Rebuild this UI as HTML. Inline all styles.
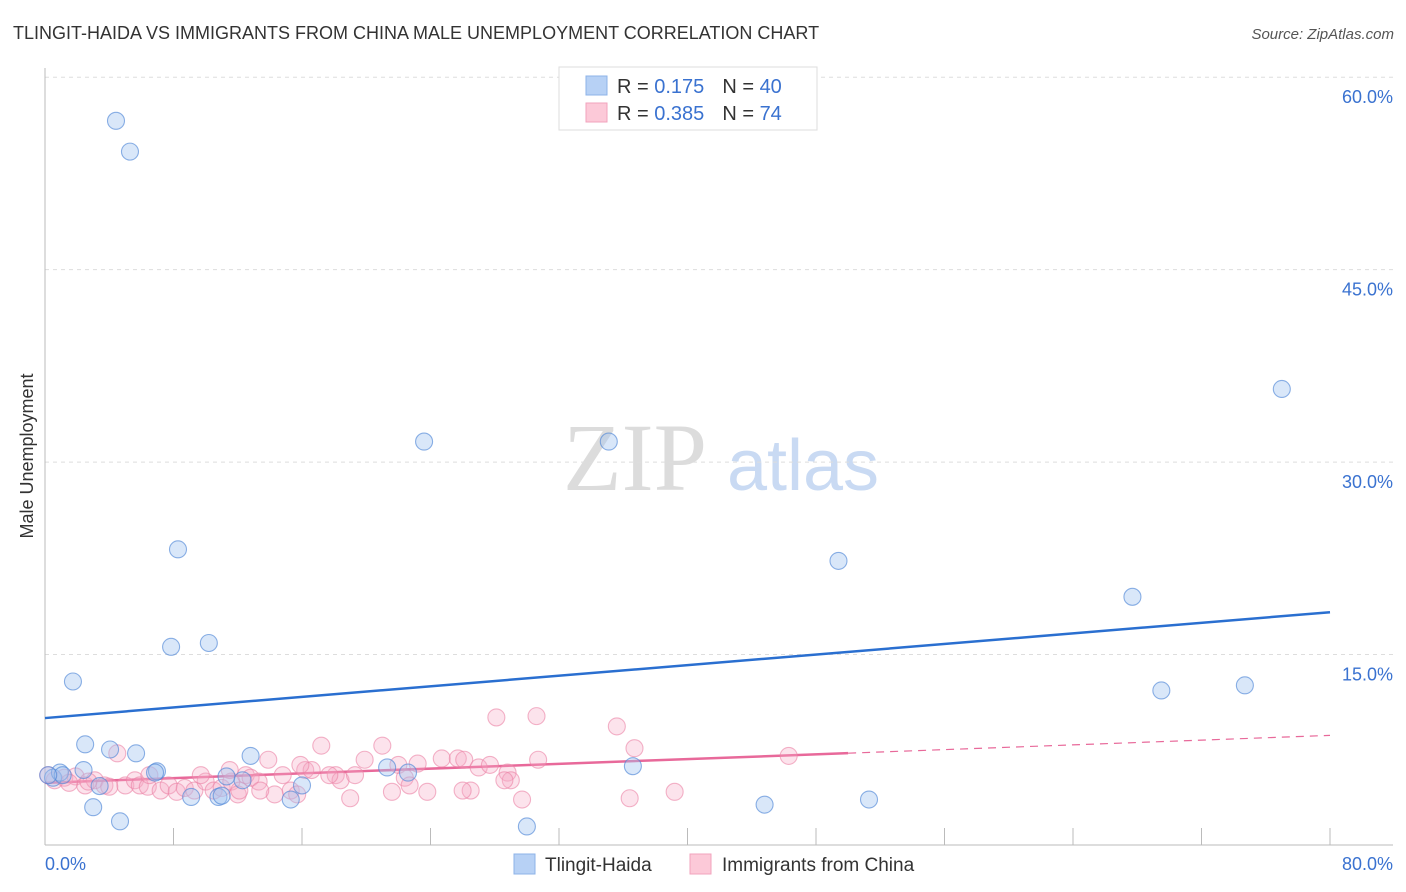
<!DOCTYPE html>
<html><head><meta charset="utf-8"><style>
body{margin:0;background:#fff;font-family:"Liberation Sans",sans-serif;}
svg{display:block}
</style></head><body>
<svg id="c" width="1406" height="892" xmlns="http://www.w3.org/2000/svg">
<text x="13" y="39" font-size="18" fill="#333">TLINGIT-HAIDA VS IMMIGRANTS FROM CHINA MALE UNEMPLOYMENT CORRELATION CHART</text>
<text x="1394" y="39" font-size="15" fill="#555" font-style="italic" text-anchor="end">Source: ZipAtlas.com</text>
<text x="33" y="456" font-size="18" fill="#333" text-anchor="middle" transform="rotate(-90 33 456)">Male Unemployment</text>
<g><text x="635" y="490" font-size="96" fill="#dcdcdc" font-family="Liberation Serif,serif" text-anchor="middle">ZIP</text><text x="803" y="490" font-size="72" fill="#c9daf3" text-anchor="middle">atlas</text></g>
<g id="grid"></g><g id="axes"></g><g id="lines"></g><g id="pts"></g>
<g>
<rect x="559" y="67" width="258" height="63" fill="#fff" stroke="#ddd"/>
<rect x="586" y="76" width="21" height="19" fill="#b7d1f5" stroke="#8db3e8"/>
<rect x="586" y="103" width="21" height="19" fill="#fcc9d8" stroke="#f2a3bd"/>
<text x="617" y="93" font-size="20" fill="#333">R = <tspan fill="#3a72d0"> 0.175</tspan><tspan dx="18">N = </tspan><tspan fill="#3a72d0">40</tspan></text>
<text x="617" y="120" font-size="20" fill="#333">R = <tspan fill="#3a72d0">0.385</tspan><tspan dx="18">N = </tspan><tspan fill="#3a72d0"> 74</tspan></text>
</g>
<g>
<rect x="514" y="854" width="21" height="20" fill="#b7d1f5" stroke="#8db3e8"/>
<text x="545" y="871" font-size="19" fill="#333">Tlingit-Haida</text>
<rect x="690" y="854" width="21" height="20" fill="#fcc9d8" stroke="#f2a3bd"/>
<text x="722" y="871" font-size="19" fill="#333">Immigrants from China</text>
</g>
</svg>
<script>
const xTicks=[0,8,16,24,32,40,48,56,64,72,80];
const yTicks=[15,30,45,60];
const yTickLabels=["15.0%","30.0%","45.0%","60.0%"];
const blueX=[4.42,5.29,8.28,7.85,10.2,1.74,23.6,35.1,49.4,67.7,69.5,74.7,77.0,2.5,4.05,5.67,12.8,0.5,0.93,2.4,3.4,6.97,3.0,4.67,9.1,10.8,11.0,11.3,12.3,15.3,16.0,21.3,22.6,30.0,36.6,44.8,51.3,1.1,6.85,0.2];
const blueY=[56.6,54.2,23.2,15.6,15.9,12.9,31.6,31.6,22.3,19.5,12.2,12.6,35.7,8.0,7.6,7.3,7.1,5.4,5.8,6.0,4.75,5.9,3.1,2.0,3.9,3.9,4.0,5.5,5.2,3.7,4.8,6.2,5.8,1.6,6.3,3.3,3.7,5.6,5.8,5.6];
const pinkX=[0.6,1.2,1.9,2.5,3.1,3.7,4.5,5.0,5.6,5.9,6.4,7.2,7.7,8.2,8.7,9.3,10.0,10.5,11.0,11.6,12.0,12.5,12.8,13.3,13.9,14.3,14.8,15.3,15.7,16.2,16.6,17.2,18.1,18.4,19.0,19.3,19.9,21.0,21.6,22.0,22.4,22.7,23.2,23.8,24.7,25.7,26.1,26.5,27.0,27.7,28.1,28.8,29.0,29.7,30.6,30.7,35.6,36.4,36.7,39.2,46.3,6.5,9.7,11.5,17.7,12.1,13.4,15.9,26.0,28.6,2.7,4.0,0.2,1.5];
const pinkY=[5.2,5.4,5.5,4.8,5.2,4.8,7.3,4.8,5.2,4.8,4.7,4.4,4.8,4.3,4.6,4.4,5.1,4.4,4.6,5.1,4.1,5.6,5.4,5.1,6.8,4.1,5.6,4.4,4.1,6.0,6.0,7.9,5.6,5.2,3.8,5.6,6.8,7.9,4.3,6.4,5.4,4.8,6.5,4.3,6.9,6.9,6.8,4.4,6.2,6.4,10.1,5.8,5.2,3.7,10.2,6.8,9.4,3.8,7.7,4.3,7.1,5.6,5.6,6.0,5.6,4.4,4.4,6.4,4.4,5.2,5.1,4.7,5.6,5.0];
const blueFit=[10.05,18.3];
const pinkFit=[5.0,8.7];
const pinkSolidEnd=50;
const X=v=>45+v*(1330-45)/80;
const Y=v=>847-v*12.83;
const NS="http://www.w3.org/2000/svg";
function mk(t,a,p){const e=document.createElementNS(NS,t);for(const k in a)e.setAttribute(k,a[k]);p.appendChild(e);return e;}
const grid=document.getElementById('grid'),axes=document.getElementById('axes'),lines=document.getElementById('lines'),pts=document.getElementById('pts');
yTicks.forEach((t,i)=>{const l=mk('line',{x1:45,x2:1393,y1:Y(t),y2:Y(t),stroke:'#ddd','stroke-dasharray':'4,4'},grid);


const tx=mk('text',{x:1393,y:Y(t)+26,'font-size':18,fill:'#3a72d0','text-anchor':'end'},axes);tx.textContent=yTickLabels[i];

});
mk('line',{x1:45,x2:45,y1:68,y2:845,stroke:'#bbb'},axes);
mk('line',{x1:45,x2:1393,y1:845,y2:845,stroke:'#bbb'},axes);
xTicks.forEach(t=>{const l=mk('line',{x1:X(t),x2:X(t),y1:828,y2:845,stroke:'#bbb'},axes);

});
const x0=mk('text',{x:45,y:870,'font-size':18,fill:'#3a72d0'},axes);x0.textContent='0.0%';
const x1=mk('text',{x:1393,y:870,'font-size':18,fill:'#3a72d0','text-anchor':'end'},axes);x1.textContent='80.0%';
function circ(xs,ys,fill,stroke,name){xs.forEach((x,i)=>{const c=mk('circle',{cx:X(x),cy:Y(ys[i]),r:8.5,fill:fill,stroke:stroke,'stroke-width':1.1},pts);

});}
circ(pinkX,pinkY,'rgba(247,170,196,0.33)','rgba(235,130,165,0.6)','china-point');
circ(blueX,blueY,'rgba(160,195,240,0.4)','rgba(80,135,215,0.65)','tlingit-point');
const bl=mk('line',{x1:X(0),y1:Y(blueFit[0]),x2:X(80),y2:Y(blueFit[1]),stroke:'#2a6fd0','stroke-width':2.5},lines);


const pm=pinkFit[0]+(pinkFit[1]-pinkFit[0])*pinkSolidEnd/80;
const pl=mk('line',{x1:X(0),y1:Y(pinkFit[0]),x2:X(pinkSolidEnd),y2:Y(pm),stroke:'#e8699a','stroke-width':2.5},lines);


const pd=mk('line',{x1:X(pinkSolidEnd),y1:Y(pm),x2:X(80),y2:Y(pinkFit[1]),stroke:'#e8699a','stroke-width':1.2,'stroke-dasharray':'8,6'},lines);


</script>
</body></html>
